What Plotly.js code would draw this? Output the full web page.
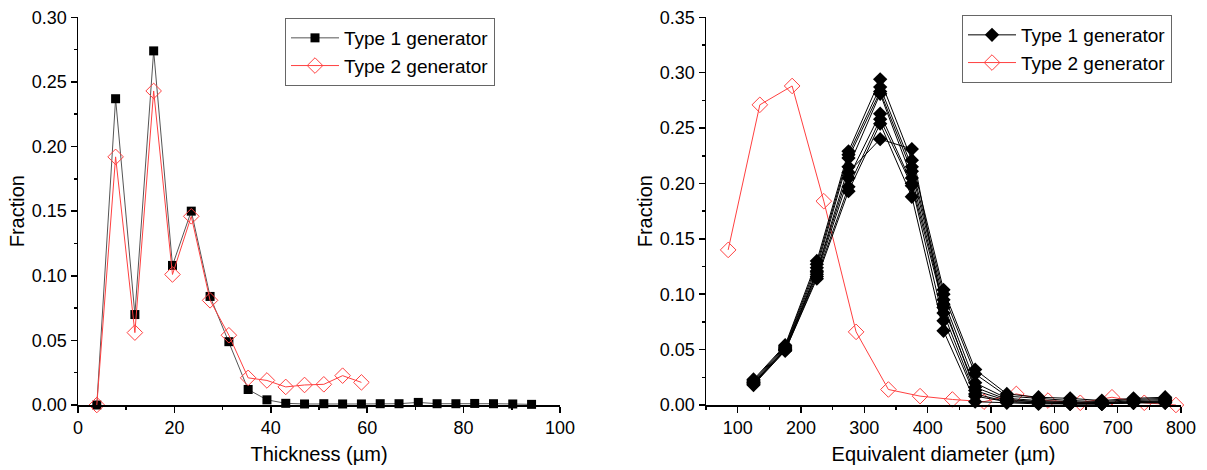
<!DOCTYPE html>
<html>
<head>
<meta charset="utf-8">
<script src="https://cdn.plot.ly/plotly-3.0.1.min.js"></script>
<style>html,body{margin:0;padding:0;background:#fff;}#chart{width:1207px;height:470px;}</style>
</head>
<body>
<div id="chart"></div>
<script>
// ---- Left panel: thickness distribution ----
const thicknessX = [3.9,7.8,11.8,15.7,19.6,23.5,27.4,31.3,35.3,39.2,43.1,47.0,51.0,54.9,58.8,62.7,66.6,70.6,74.5,78.4,82.3,86.2,90.2,94.1];
const thicknessType1 = [0.000,0.237,0.070,0.274,0.108,0.150,0.084,0.049,0.012,0.004,0.0013,0.0008,0.001,0.0008,0.0008,0.001,0.001,0.002,0.001,0.001,0.0012,0.001,0.0008,0.0005];
const thicknessX2 = [3.9,7.8,11.8,15.7,19.6,23.5,27.4,31.3,35.3,39.2,43.1,47.0,51.0,54.9,58.8];
const thicknessType2 = [0.000,0.192,0.056,0.243,0.101,0.146,0.081,0.054,0.021,0.019,0.014,0.0155,0.016,0.0227,0.0175];

// ---- Right panel: equivalent diameter distribution ----
const diameterX1 = [125,175,225,275,325,375,425,475,525,575,625,675,725,775];
const diamRun1 = [0.023,0.054,0.130,0.229,0.294,0.221,0.104,0.032,0.010,0.007,0.006,0.004,0.006,0.007];
const diamRun2 = [0.022,0.053,0.127,0.226,0.287,0.215,0.100,0.028,0.008,0.006,0.004,0.003,0.005,0.006];
const diamRun3 = [0.021,0.052,0.124,0.223,0.283,0.211,0.095,0.020,0.006,0.004,0.003,0.002,0.004,0.005];
const diamRun4 = [0.020,0.051,0.121,0.215,0.281,0.205,0.091,0.013,0.004,0.003,0.002,0.002,0.003,0.004];
const diamRun5 = [0.020,0.050,0.118,0.205,0.263,0.200,0.088,0.016,0.005,0.003,0.002,0.001,0.003,0.003];
const diamRun6 = [0.019,0.049,0.116,0.197,0.258,0.198,0.076,0.008,0.003,0.002,0.001,0.001,0.002,0.003];
const diamRun7 = [0.018,0.049,0.114,0.193,0.254,0.188,0.067,0.003,0.002,0.001,0.001,0.001,0.002,0.002];
const diamRun8 = [0.019,0.050,0.120,0.210,0.240,0.231,0.083,0.010,0.003,0.002,0.001,0.001,0.002,0.002];
const diameterX2 = [85,135,186,236,287,338,388,439,489,540,590,641,691,742,792];
const diamType2 = [0.140,0.271,0.288,0.184,0.066,0.014,0.008,0.005,0.003,0.010,0.004,0.002,0.007,0.002,0.000];

const seriesNames = ["Type 1 generator","Type 2 generator"];
const RED = "rgb(255,64,64)";
const FONT = "Liberation Sans, Arial, sans-serif";

const traces = [];
traces.push({x: thicknessX, y: thicknessType1, name: seriesNames[0], type:"scatter", mode:"lines+markers",
  xaxis:"x", yaxis:"y", legend:"legend", cliponaxis:false,
  line:{color:"#555", width:1}, marker:{symbol:"square", size:9, color:"#000"}});
traces.push({x: thicknessX2, y: thicknessType2, name: seriesNames[1], type:"scatter", mode:"lines+markers",
  xaxis:"x", yaxis:"y", legend:"legend", cliponaxis:false,
  line:{color:RED, width:1}, marker:{symbol:"diamond-open", size:12, color:RED, line:{width:1}}});

traces.push({x: diameterX2, y: diamType2, name: seriesNames[1], type:"scatter", mode:"lines+markers",
  xaxis:"x2", yaxis:"y2", legend:"legend2", legendrank:2, cliponaxis:false,
  line:{color:RED, width:1}, marker:{symbol:"diamond-open", size:12, color:RED, line:{width:1}}});
[diamRun1,diamRun2,diamRun3,diamRun4,diamRun5,diamRun6,diamRun7,diamRun8].forEach((run,i)=>{
  traces.push({x: diameterX1, y: run, name: seriesNames[0], type:"scatter", mode:"lines+markers",
    xaxis:"x2", yaxis:"y2", legend:"legend2", legendgroup:"t1", legendrank:1, showlegend: i===0, cliponaxis:false,
    line:{color:"#000", width:1}, marker:{symbol:"diamond", size:11, color:"#000"}});
});

const tickFont = {family: FONT, size: 18, color: "#000"};
const titleFont = {family: FONT, size: 20, color: "#000"};
function axisBase(extra){
  return Object.assign({
    showgrid:false, zeroline:false, showline:true, linecolor:"#000", linewidth:1.5,
    ticks:"outside", ticklen:6, tickwidth:1.5, tickcolor:"#000", tickfont:tickFont,
    mirror:false, automargin:false
  }, extra);
}

const layout = {
  width:1207, height:470, margin:{l:0,r:0,t:0,b:0},
  paper_bgcolor:"#fff", plot_bgcolor:"#fff", font:{family:FONT, color:"#000"},
  xaxis: axisBase({domain:[78/1207, 560/1207], anchor:"y", range:[0,100], tick0:0, dtick:20,
    minor:{dtick:10, ticks:"outside", ticklen:3, tickcolor:"#000", tickwidth:1.5},
    title:{text:"Thickness (µm)", font:titleFont, standoff:10}}),
  yaxis: axisBase({domain:[65/470, 452.7/470], anchor:"x", range:[0,0.30], tick0:0, dtick:0.05, tickformat:".2f",
    minor:{dtick:0.025, ticks:"outside", ticklen:3, tickcolor:"#000", tickwidth:1.5},
    title:{text:"Fraction", font:titleFont, standoff:2}}),
  xaxis2: axisBase({domain:[706/1207, 1181/1207], anchor:"y2", range:[50,800], tick0:0, dtick:100,
    minor:{dtick:50, ticks:"outside", ticklen:3, tickcolor:"#000", tickwidth:1.5},
    title:{text:"Equivalent diameter (µm)", font:titleFont, standoff:10}}),
  yaxis2: axisBase({domain:[65/470, 452.7/470], anchor:"x2", range:[0,0.35], tick0:0, dtick:0.05, tickformat:".2f",
    minor:{dtick:0.025, ticks:"outside", ticklen:3, tickcolor:"#000", tickwidth:1.5},
    title:{text:"Fraction", font:titleFont, standoff:2}}),
  legend: {x:285/1207, y:1-18/470, xanchor:"left", yanchor:"top", bgcolor:"#fff", bordercolor:"#666", borderwidth:1,
    font:{family:FONT, size:19, color:"#000"}, tracegroupgap:0, itemwidth:48},
  legend2: {x:962/1207, y:1-15/470, xanchor:"left", yanchor:"top", bgcolor:"#fff", bordercolor:"#666", borderwidth:1,
    font:{family:FONT, size:19, color:"#000"}, tracegroupgap:0, itemwidth:48, traceorder:"normal"},
  showlegend:true
};

Plotly.newPlot("chart", traces, layout, {staticPlot:true, displayModeBar:false});
</script>
</body>
</html>
